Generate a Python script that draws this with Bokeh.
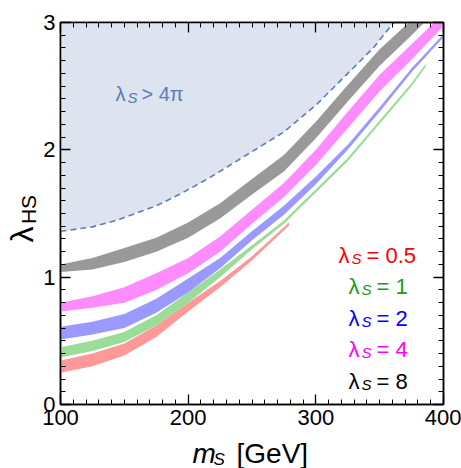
import math
from bokeh.plotting import figure
from bokeh.layouts import row, column
from bokeh.models import Range1d, LinearAxis, FixedTicker, Label
from bokeh.embed import file_html
from bokeh.resources import INLINE

# ---------------- data ----------------
m_grid = [100, 125, 150, 175, 200, 225, 250, 275, 300, 325, 350, 375, 400]

lam8_lo = [1.04, 1.06, 1.12, 1.20, 1.31, 1.46, 1.65, 1.83, 2.09, 2.38, 2.66, 2.90, 3.15]
lam8_hi = [1.10, 1.15, 1.23, 1.31, 1.43, 1.58, 1.77, 1.96, 2.22, 2.51, 2.79, 3.02, 3.30]

lam4_lo = [0.73, 0.76, 0.80, 0.90, 1.03, 1.20, 1.42, 1.63, 1.88, 2.17, 2.46, 2.71, 2.97]
lam4_hi = [0.80, 0.85, 0.92, 1.03, 1.15, 1.32, 1.53, 1.74, 2.00, 2.30, 2.59, 2.83, 3.07]

lam2_lo = [0.51, 0.55, 0.60, 0.72, 0.88, 1.07, 1.29, 1.49, 1.73, 2.00, 2.30, 2.61, 2.885]
lam2_hi = [0.61, 0.65, 0.71, 0.83, 0.99, 1.15, 1.36, 1.56, 1.79, 2.04, 2.335, 2.64, 2.91]

m_green = [100, 125, 150, 175, 200, 225, 250, 275, 300, 325, 350, 375, 386]
lam1_lo = [0.37, 0.42, 0.49, 0.62, 0.80, 1.00, 1.22, 1.42, 1.665, 1.91, 2.205, 2.50, 2.65]
lam1_hi = [0.45, 0.50, 0.57, 0.70, 0.88, 1.06, 1.25, 1.445, 1.69, 1.935, 2.23, 2.525, 2.675]

m_red = [100, 125, 150, 175, 200, 225, 250, 279]
lam05_lo = [0.25, 0.30, 0.385, 0.53, 0.73, 0.92, 1.13, 1.405]
lam05_hi = [0.345, 0.40, 0.48, 0.62, 0.80, 0.97, 1.165, 1.43]

m_bound = [100, 125, 145, 175, 195, 215, 249, 275, 301, 327, 345, 361]
lam_bound = [1.36, 1.395, 1.45, 1.56, 1.66, 1.77, 1.98, 2.14, 2.36, 2.62, 2.80, 3.0]

legend_values = ["0.5", "1", "2", "4", "8"]
x_ticks = [100, 200, 300, 400]
y_ticks = [0, 1, 2, 3]
x_minor = list(range(100, 401, 10))
y_minor = [i / 10 for i in range(0, 31)]

# ---------------- styles / geometry ----------------
band_colors = {"8": "#999999", "4": "#ff8cff", "2": "#9999ff", "1": "#99dd99", "0.5": "#ff9999"}
text_colors = ["#ff0000", "#10a010", "#0000ff", "#ff00ff", "#000000"]
FONT = "Liberation Sans"

W, H = 461, 468          # whole page
YL_W = 40                # strip that holds the y title
XL_H = 30                # strip that holds the x title
FL, FR, FT, FB = 60, 443, 22, 404  # frame edges in page pixels
XMIN, XMAX, YMIN, YMAX = 100, 400, 0, 3


def dx(sx):
    return XMIN + (sx - FL) * (XMAX - XMIN) / (FR - FL)


def dy(sy):
    return YMIN + (FB - sy) * (YMAX - YMIN) / (FB - FT)


p = figure(width=W - YL_W, height=H - XL_H, output_backend="svg", toolbar_location=None,
           x_range=Range1d(XMIN, XMAX), y_range=Range1d(YMIN, YMAX),
           min_border_left=FL - YL_W, min_border_right=W - FR,
           min_border_top=FT, min_border_bottom=H - XL_H - FB)
p.title.visible = False
p.grid.visible = False
p.background_fill_color = "white"
p.border_fill_color = "white"
p.outline_line_color = "black"
p.outline_line_width = 1.5

# excluded region
p.varea(x=m_bound, y1=lam_bound, y2=[YMAX] * len(m_bound), fill_color="#dde3ef", fill_alpha=1.0)
p.line(x=m_bound, y=lam_bound, line_color="#5a7dbb", line_width=1.6, line_dash="6 4")

# bands
p.varea(x=m_red, y1=lam05_lo, y2=lam05_hi, fill_color=band_colors["0.5"])
p.varea(x=m_green, y1=lam1_lo, y2=lam1_hi, fill_color=band_colors["1"])
p.varea(x=m_grid, y1=lam2_lo, y2=lam2_hi, fill_color=band_colors["2"])
p.varea(x=m_grid, y1=lam4_lo, y2=lam4_hi, fill_color=band_colors["4"])
p.varea(x=m_grid, y1=lam8_lo, y2=lam8_hi, fill_color=band_colors["8"])


def style_axis(ax, ticks, minor, labels=True):
    ax.ticker = FixedTicker(ticks=ticks, minor_ticks=minor)
    ax.axis_line_color = "black"
    ax.axis_line_width = 1.5
    ax.major_tick_in = 10
    ax.major_tick_out = 0
    ax.minor_tick_in = 5
    ax.minor_tick_out = 0
    ax.major_tick_line_color = "black"
    ax.minor_tick_line_color = "black"
    ax.major_tick_line_width = 1.3
    ax.minor_tick_line_width = 1
    if labels:
        ax.major_label_text_font = FONT
        ax.major_label_text_font_size = "22px"
        ax.major_label_text_color = "black"
        ax.major_label_standoff = 5
    else:
        ax.major_label_overrides = {t: "" for t in ticks}
        ax.major_label_text_font_size = "1px"
        ax.major_label_standoff = 0


style_axis(p.xaxis[0], x_ticks, x_minor)
style_axis(p.yaxis[0], y_ticks, y_minor)
top_ax = LinearAxis()
right_ax = LinearAxis()
style_axis(top_ax, x_ticks, x_minor, labels=False)
style_axis(right_ax, y_ticks, y_minor, labels=False)
p.add_layout(top_ax, "above")
p.add_layout(right_ax, "right")


def lab(fig, x, y, text, size, color="black", style="normal", angle=0.0,
        align="left", baseline="alphabetic"):
    fig.add_layout(Label(x=x, y=y, text=text, text_font=FONT,
                         text_font_size=f"{size}px", text_color=color,
                         text_font_style=style, text_align=align,
                         text_baseline=baseline, angle=angle))


def plab(sx, sy, text, size, color="black", style="normal"):
    lab(p, dx(sx), dy(sy), text, size, color, style)


# legend
starts = [338, 348, 348, 348, 348]
bases = [255, 286, 317.5, 349, 380.5]
for val, col, x0, b in zip(legend_values, text_colors, starts, bases):
    plab(x0, b, "λ", 22, col)
    plab(x0 + 13, b + 3, "S", 15, col, "italic")
    plab(x0 + 28, b, "= " + val, 22, col)

# excluded region annotation
ann_col = "#5a7bb6"
plab(115, 93.5, "λ", 20, ann_col)
plab(127, 97, "S", 15, ann_col, "italic")
plab(141, 93.5, "> 4π", 20, ann_col)


def text_strip(w, h, y_range):
    f = figure(width=w, height=h, output_backend="svg", toolbar_location=None,
               x_range=Range1d(0, w), y_range=y_range,
               x_axis_type=None, y_axis_type=None, min_border=0)
    f.title.visible = False
    f.min_border_left = 0
    f.min_border_right = 0
    f.min_border_top = 0
    f.min_border_bottom = 0
    f.grid.visible = False
    f.outline_line_color = None
    f.background_fill_color = "white"
    f.border_fill_color = "white"
    return f


# y title strip: its frame is aligned with the main frame, so it shares the y range
ystrip = text_strip(YL_W, H - XL_H, p.y_range)
lab(ystrip, 21, dy(234), "λ", 32, angle=math.pi / 2, align="center", baseline="middle")
lab(ystrip, 27.5, dy(209), "HS", 21, angle=math.pi / 2, align="center", baseline="middle")

# x title strip (page x 0..W, page y H-XL_H..H)
xstrip = text_strip(W, XL_H, Range1d(0, XL_H))
lab(xstrip, 192, 15, "m", 28, style="italic", baseline="middle")
lab(xstrip, 213, 9.5, "S", 17, style="italic", baseline="middle")
lab(xstrip, 236, 15, "[GeV]", 28, baseline="middle")

layout = column(row(ystrip, p, spacing=0), xstrip, spacing=0)
open("out.html", "w").write(file_html(layout, INLINE))
